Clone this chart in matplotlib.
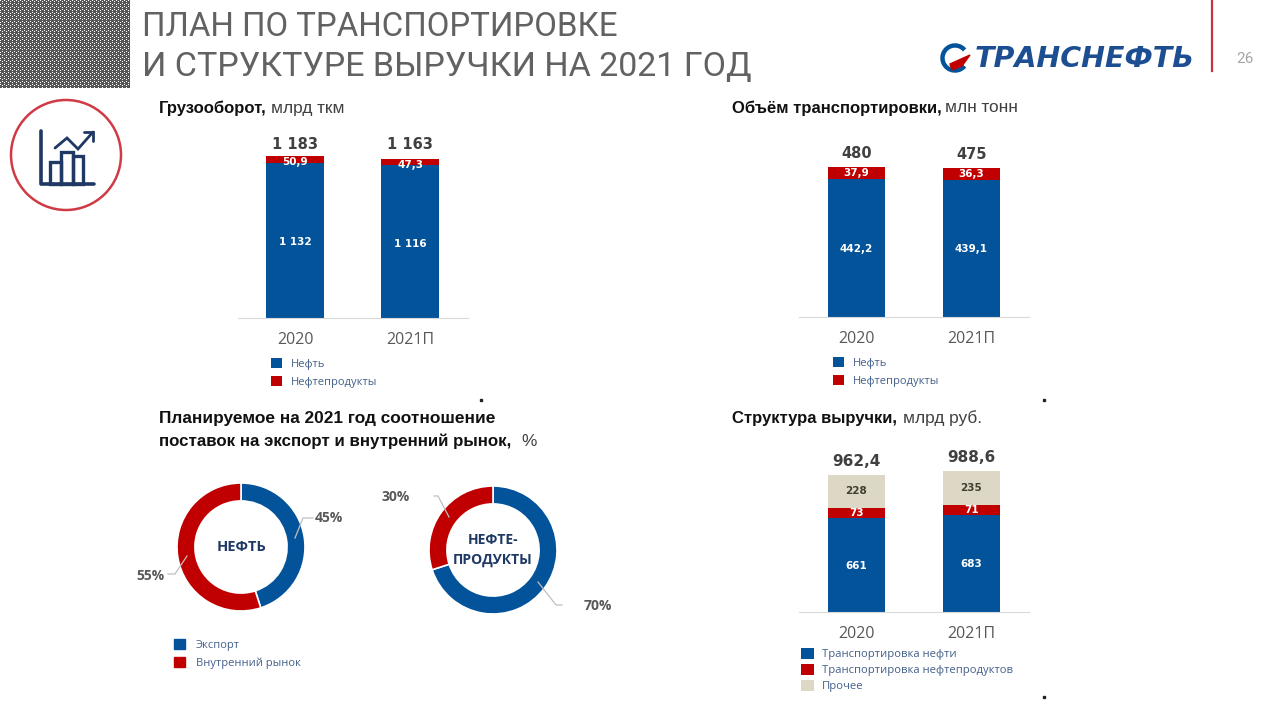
#!/usr/bin/env python

import numpy as np
import matplotlib
matplotlib.use('Agg')
import matplotlib.pyplot as plt
from matplotlib.patches import Arc, Circle, Patch, Rectangle

W = 1274
H = 708

BLUE = '#03539A'
RED = '#C00000'
BEIGE = '#DDD8C6'
GREY = '#595959'
NAVY = '#1F3864'
LEG = '#44608A'

# Data
years = ['2020', '2021П']

turnover_oil = [1132, 1116]
turnover_prod = [50.9, 47.3]
turnover_total = ['1 183', '1 163']
turnover_oil_lbl = ['1 132', '1 116']
turnover_prod_lbl = ['50,9', '47,3']

volume_oil = [442.2, 439.1]
volume_prod = [37.9, 36.3]
volume_total = ['480', '475']
volume_oil_lbl = ['442,2', '439,1']
volume_prod_lbl = ['37,9', '36,3']

rev_oil = [661, 683]
rev_prod = [73, 71]
rev_other = [228, 235]
rev_total = ['962,4', '988,6']

oil_split = [45, 55]
prod_split = [70, 30]
split_names = ['Экспорт', 'Внутренний рынок']

plt.rcParams['font.family'] = ['Open Sans', 'DejaVu Sans']

fig = plt.figure(figsize=(W/100, H/100), dpi=100)
fig.patch.set_facecolor('white')


def px_axes(left, top, right, bottom):
    return fig.add_axes([left/W, 1 - bottom/H, (right - left)/W, (bottom - top)/H])


# overlay in pixel coords for headings, icon and leader lines
ov = fig.add_axes([0, 0, 1, 1], zorder=10)
ov.set_xlim(0, W)
ov.set_ylim(H, 0)
ov.axis('off')
ov.patch.set_alpha(0)


def stacked(left, baseline, scale, series, colors, totals, labels, label_colors, shifts, gaps, total_size=10.5):
    top = baseline - 190
    ax = px_axes(left, top, left + 230, baseline)
    ax.set_xlim(-0.5, 1.5)
    ax.set_ylim(0, 190/scale)
    bottom = np.zeros(2)
    handles = []
    for vals, col, lbl, lc, dy in zip(series, colors, labels, label_colors, shifts):
        b = ax.bar([0, 1], vals, 0.5, bottom=bottom, color=col)
        handles.append(b)
        for i in range(2):
            ax.text(i, bottom[i] + vals[i]/2 - dy/scale, lbl[i], color=lc, ha='center', va='center',
                    fontsize=7.5, fontweight='bold', family='DejaVu Sans')
        bottom = bottom + np.array(vals)
    for i in range(2):
        ax.text(i, bottom[i] + gaps[i]/scale, totals[i], color='#404040', ha='center', va='bottom',
                fontsize=total_size, fontweight='bold', family='DejaVu Sans')
    for s in ['top', 'left', 'right']:
        ax.spines[s].set_visible(False)
    ax.spines['bottom'].set_color('#D9D9D9')
    ax.set_yticks([])
    ax.set_xticks([0, 1])
    ax.set_xticklabels(years, fontsize=11.5, color=GREY)
    ax.tick_params(axis='x', length=0, pad=10)
    return handles


def add_legend(ax, handles, names, x, y, size=8, pitch=0.57, sq=0.95, pad=0.8):
    leg = ax.legend(handles, names, loc='upper left', bbox_to_anchor=(x, y),
                    bbox_transform=ov.transData, frameon=False, fontsize=size,
                    borderpad=0, borderaxespad=0, handlelength=sq, handleheight=sq,
                    handletextpad=pad, labelspacing=pitch, labelcolor=LEG)
    return leg


# Bars
h = stacked(237.5, 318, 162/1183, [turnover_oil, turnover_prod], [BLUE, RED],
            turnover_total, [turnover_oil_lbl, turnover_prod_lbl], ['white', 'white'],
            [2, 3], [4, 6.5])
add_legend(plt.gca(), h, ['Нефть', 'Нефтепродукты'], 271, 358)

h = stacked(799, 317, 150/480, [volume_oil, volume_prod], [BLUE, RED],
            volume_total, [volume_oil_lbl, volume_prod_lbl], ['white', 'white'],
            [1, 0], [6, 6])
add_legend(plt.gca(), h, ['Нефть', 'Нефтепродукты'], 833, 357)

h = stacked(799, 612, 137/962.4, [rev_oil, rev_prod, rev_other], [BLUE, RED, BEIGE],
            rev_total, [[str(v) for v in rev_oil], [str(v) for v in rev_prod], [str(v) for v in rev_other]],
            ['white', 'white', '#404030'], [1, 0, 0], [6.5, 6.5], total_size=11)
add_legend(plt.gca(), h, ['Транспортировка нефти', 'Транспортировка нефтепродуктов', 'Прочее'],
           801, 648, size=8.1, pitch=0.32, sq=1.15, pad=0.7)


# Donuts
def donut(cx, cy, vals, title, size):
    r = 64
    ax = px_axes(cx - r, cy - r, cx + r, cy + r)
    wedges, _ = ax.pie(vals, colors=[BLUE, RED], startangle=90, counterclock=False, radius=1,
                       wedgeprops=dict(width=0.28, edgecolor='white', linewidth=1.2))
    ax.set_xlim(-1, 1)
    ax.set_ylim(-1, 1)
    ax.text(0, 0, title, ha='center', va='center', fontsize=size, fontweight='bold',
            color=NAVY, linespacing=1.5)
    return ax, wedges


ax, wedges = donut(241, 547, oil_split, 'НЕФТЬ', 10.5)
add_legend(ax, [Patch(color=w.get_facecolor()) for w in wedges], split_names, 174, 639, pitch=0.6, pad=1.0)
donut(493, 550, prod_split, 'НЕФТЕ-\nПРОДУКТЫ', 10)

leader = dict(color='#BFBFBF', lw=0.9)
ov.plot([295, 303, 313], [538, 518, 518], **leader)
ov.plot([187, 175, 168], [556, 574, 574], **leader)
ov.plot([449, 438, 434], [517, 496, 496], **leader)
ov.plot([538, 556, 562], [582, 605, 605], **leader)
for x, y, s in [(315, 518, '45%'), (136, 576, '55%'), (382, 497, '30%'), (584, 606, '70%')]:
    ov.text(x, y, s, fontsize=10, fontweight='bold', color=GREY, ha='left', va='center')

# Header
yy, xx = np.mgrid[0:88, 0:130]
pattern = (((xx + 2*yy) % 4 == 0) & (yy % 3 != 2)).astype(float)
ov.imshow(pattern, cmap='gray', vmin=-0.5, vmax=1.0, extent=(0, 130, 88, 0), interpolation='nearest', aspect='auto')
ov.set_xlim(0, W)
ov.set_ylim(H, 0)

ov.text(142, 27.5, 'ПЛАН ПО ТРАНСПОРТИРОВКЕ', fontsize=23.8, color='#626262', va='center', family='Roboto')
ov.text(142, 67.5, 'И СТРУКТУРЕ ВЫРУЧКИ НА 2021 ГОД', fontsize=24.5, color='#626262', va='center', family='Roboto')

ov.plot([1212, 1212], [0, 71], color='#C8323C', lw=1.6)
ov.text(1245, 59, '26', fontsize=11, color='#A6A6A6', ha='center', va='center', family='Roboto')

# logo
ov.add_patch(Arc((955, 58), 25, 25, theta1=40, theta2=320, ec=BLUE, lw=3.2))
ov.fill([950, 970, 962, 952], [64, 55, 66, 70], color=RED)
ov.text(975, 59, 'ТРАНСНЕФТЬ', fontsize=20.5, fontweight='bold', style='italic', color='#1D4E92',
        va='center', family='DejaVu Sans')

# icon
ov.add_patch(Circle((66, 155), 55, fc='none', ec='#CF3A44', lw=1.8))
ic = dict(color=NAVY, lw=2.6, solid_capstyle='round', solid_joinstyle='round')
ov.plot([41, 41, 94], [131, 184, 184], **ic)
ov.add_patch(Rectangle((50, 162), 11, 22, fc='none', ec=NAVY, lw=2.4))
ov.add_patch(Rectangle((61, 152), 12, 32, fc='none', ec=NAVY, lw=2.4))
ov.add_patch(Rectangle((73, 156), 10, 28, fc='none', ec=NAVY, lw=2.4))
ic2 = dict(color=NAVY, lw=2, solid_capstyle='round', solid_joinstyle='miter')
ov.plot([55, 67, 78, 93], [148, 138, 149, 132], **ic2)
ov.plot([84, 93, 93], [132, 132, 141], **ic2)

# Headings
hd = dict(va='center', fontweight='bold', color='#111111', family='Liberation Sans')
rg = dict(fontsize=12.4, va='center', color='#404040', family='Liberation Sans')
ov.text(159, 108, 'Грузооборот,', fontsize=12, **hd)
ov.text(271, 108, 'млрд ткм', **rg)
ov.text(732, 108, 'Объём транспортировки,', fontsize=12, **hd)
ov.text(945, 108, 'млн тонн', **rg)
ov.text(159, 418.5, 'Планируемое на 2021 год соотношение', fontsize=12.4, **hd)
ov.text(159, 441.5, 'поставок на экспорт и внутренний рынок,', fontsize=12.2, **hd)
ov.text(521, 441.5, '%', **rg)
ov.text(732, 418.5, 'Структура выручки,', fontsize=12, **hd)
ov.text(903, 418.5, 'млрд руб.', **rg)

# stray dots in the slide
ov.plot([481, 1044, 1044], [400, 400, 697], 's', color='#222222', ms=1.5)

fig.savefig('out.png', dpi=100)
